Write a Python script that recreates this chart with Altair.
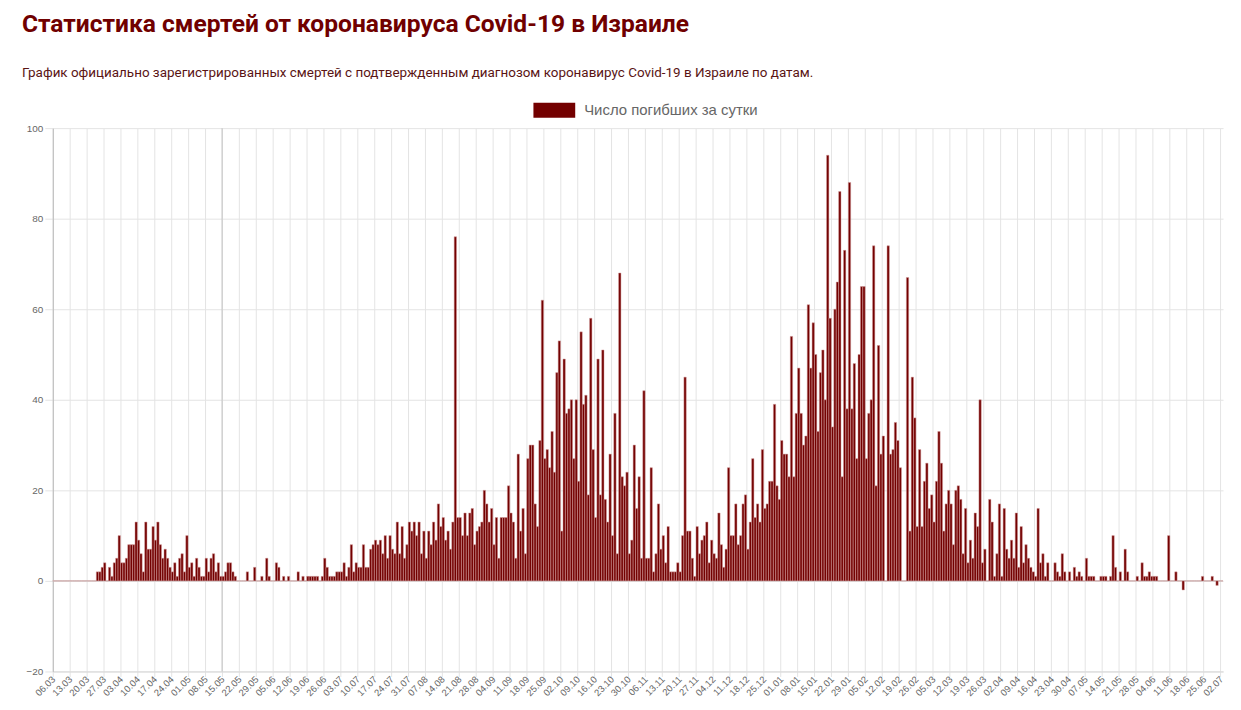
import altair as alt
import pandas as pd

START = "2020-03-06"
SERIES = "Число погибших за сутки"
TITLE = "Статистика смертей от коронавируса Covid-19 в Израиле"
SUBTITLE = ("График официально зарегистрированных смертей с подтвержденным "
            "диагнозом коронавирус Covid-19 в Израиле по датам.")

DARK_RED = "#730000"
GRID = "#e4e4e4"
AXIS = "#b8b8b8"
LABEL = "#666666"
HEAD = "Roboto, 'Liberation Sans', sans-serif"
SANS = "'Liberation Sans', Arial, sans-serif"

# daily deaths
mar20 = [0] * 18 + [2, 2, 3, 4, 0, 3, 1, 4]
apr20 = [5, 10, 4, 4, 5, 8, 8, 8, 13, 9, 6, 2, 13, 7, 7, 12, 9, 13, 8, 5,
         7, 5, 3, 2, 4, 1, 5, 6, 2, 10]
may20 = [3, 4, 1, 5, 3, 1, 1, 5, 2, 5, 6, 2, 4, 1, 1, 2, 4, 4, 2, 1,
         0, 0, 0, 0, 2, 0, 0, 3, 0, 0, 1]
jun20 = [0, 5, 1, 0, 0, 4, 3, 0, 1, 0, 1, 0, 0, 0, 2, 0, 1, 0, 1, 1,
         1, 1, 1, 0, 1, 5, 3, 1, 1, 1]
jul20 = [2, 2, 2, 4, 1, 3, 8, 2, 4, 3, 3, 8, 3, 3, 7, 8, 9, 8, 9, 6,
         10, 5, 10, 7, 6, 13, 6, 12, 5, 8, 13]
aug20 = [11, 13, 10, 13, 6, 11, 5, 11, 8, 13, 9, 17, 12, 14, 9, 11, 7, 13, 76, 14,
         14, 10, 15, 10, 15, 16, 8, 11, 12, 13, 20]
sep20 = [17, 13, 16, 8, 14, 5, 14, 14, 14, 21, 15, 13, 5, 28, 11, 16, 6, 27, 30, 30,
         17, 12, 31, 62, 27, 29, 25, 33, 24, 46]
oct20 = [53, 11, 49, 37, 38, 40, 27, 40, 22, 55, 39, 41, 19, 58, 29, 14, 49, 19, 51, 18,
         13, 28, 10, 37, 6, 68, 23, 21, 24, 6, 9]
nov20 = [30, 16, 23, 5, 42, 5, 5, 25, 2, 6, 17, 7, 10, 4, 12, 2, 2, 2, 4, 2,
         10, 45, 11, 11, 5, 1, 12, 6, 9, 10]
dec20 = [13, 4, 9, 6, 5, 15, 8, 3, 7, 25, 10, 10, 17, 8, 10, 17, 19, 7, 13, 27,
         14, 17, 13, 29, 16, 17, 22, 22, 39, 21, 18]
jan21 = [31, 28, 28, 23, 54, 23, 37, 47, 37, 30, 32, 61, 47, 57, 50, 33, 46, 51, 40, 94,
         58, 34, 60, 66, 86, 23, 73, 38, 88, 38, 48]
feb21 = [27, 50, 65, 65, 27, 37, 40, 74, 21, 52, 28, 32, 0, 74, 28, 29, 35, 31, 25, 0,
         0, 67, 11, 45, 36, 12, 29, 12]
mar21 = [22, 26, 16, 19, 13, 22, 33, 26, 11, 17, 20, 17, 8, 20, 21, 18, 6, 16, 4, 9,
         5, 15, 12, 40, 4, 7, 0, 18, 13, 1, 6]
apr21 = [17, 1, 16, 7, 5, 9, 5, 15, 3, 12, 4, 8, 5, 3, 2, 1, 16, 4, 6, 1,
         4, 0, 0, 4, 2, 1, 6, 2, 0, 2]
may21 = [0, 3, 1, 2, 1, 0, 5, 1, 1, 1, 0, 0, 1, 1, 1, 0, 1, 10, 3, 0,
         2, 0, 7, 2, 0, 0, 0, 1, 0, 4, 1]
jun21 = [1, 2, 1, 1, 1, 0, 0, 0, 0, 10, 0, 0, 2, 0, 0, -2, 0, 0, 0, 0,
         0, 0, 0, 1, 0, 0, 0, 1, 0, -1]
jul21 = [0, 0]

months = [mar20, apr20, may20, jun20, jul20, aug20, sep20, oct20, nov20,
          dec20, jan21, feb21, mar21, apr21, may21, jun21, jul21]
deaths = [v for month in months for v in month]
dates = pd.date_range(START, periods=len(deaths), freq="D").strftime("%Y-%m-%d").tolist()
tick_dates = dates[::7]
marker_date = ["2020-05-15"]
y_ticks = [-20, 0, 20, 40, 60, 80, 100]

df = pd.DataFrame({"date": dates, "deaths": deaths, "series": SERIES})

x_scale = alt.Scale(domain=dates, paddingInner=0.04, paddingOuter=0)
y_scale = alt.Scale(domain=[-20, 100], nice=False, zero=False)

base = alt.Chart(df)

bars = base.mark_bar(stroke="#d39a9a", strokeWidth=0.5).encode(
    x=alt.X(
        "date:O",
        sort=None,
        title=None,
        scale=x_scale,
        axis=alt.Axis(
            values=tick_dates,
            bandPosition=0,
            labelExpr="substring(datum.value, 8, 10) + '.' + substring(datum.value, 5, 7)",
            labelAngle=-45,
            labelAlign="right",
            labelBaseline="middle",
            labelFontSize=9.5,
            labelColor=LABEL,
            labelFont=SANS,
            labelPadding=1,
            labelOverlap=False,
            tickSize=5,
            tickColor=GRID,
            grid=True,
            gridColor=GRID,
            domainColor="#d8d8d8",
        ),
    ),
    y=alt.Y(
        "deaths:Q",
        title=None,
        scale=y_scale,
        axis=alt.Axis(
            values=y_ticks,
            labelFontSize=10,
            labelColor=LABEL,
            labelFont=SANS,
            labelPadding=2,
            tickSize=8,
            tickColor=GRID,
            gridColor=GRID,
            domainColor=AXIS,
        ),
    ),
    color=alt.Color(
        "series:N",
        scale=alt.Scale(range=[DARK_RED]),
        legend=alt.Legend(
            title=None,
            orient="none",
            legendX=483,
            legendY=-39,
            symbolType="M-1,-0.357L1,-0.357L1,0.357L-1,0.357Z",
            symbolSize=1764,
            symbolStrokeWidth=0,
            symbolOpacity=1,
            labelFontSize=15,
            labelColor=LABEL,
            labelFont=SANS,
            labelOffset=9,
            labelLimit=400,
        ),
    ),
)

marker = alt.Chart(pd.DataFrame({"date": marker_date})).mark_rule(
    color="#c4c4c4", strokeWidth=1
).encode(x=alt.X("date:O", bandPosition=0, scale=x_scale))

zero_line = alt.Chart(pd.DataFrame({"zero": [0]})).mark_rule(
    color="#c8c8c8", strokeWidth=1
).encode(y=alt.Y("zero:Q", scale=y_scale))

chart = (
    alt.layer(marker, zero_line, bars)
    .properties(
        width=1176,
        height=546,
        autosize=alt.AutoSizeParams(type="none"),
        padding={"left": 45, "top": 119, "right": 10, "bottom": 30},
        title=alt.TitleParams(
            text=TITLE,
            subtitle=SUBTITLE,
            anchor="start",
            frame="group",
            dx=-31,
            offset=10,
            font=HEAD,
            fontSize=24.7,
            fontWeight="bold",
            color="#700000",
            subtitleFont=HEAD,
            subtitleFontSize=13.5,
            subtitleColor="#5a1414",
            subtitlePadding=29,
        ),
    )
    .configure(background="white")
    .configure_view(strokeWidth=0)
)

chart.save("out.html", embed_options={"renderer": "svg", "actions": False})
